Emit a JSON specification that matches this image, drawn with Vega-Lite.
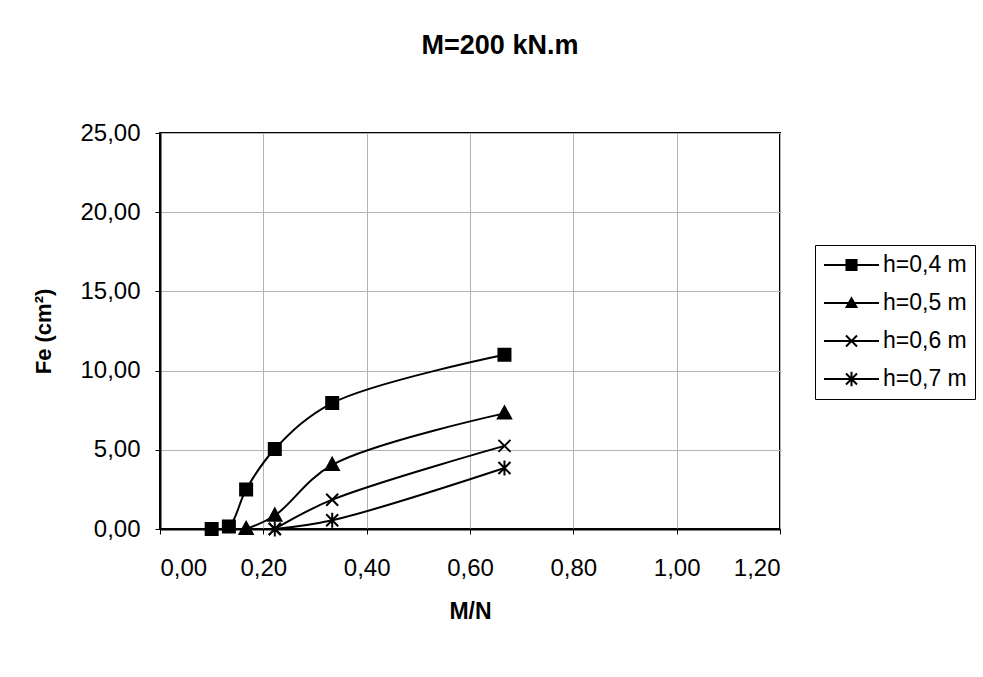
{
  "$schema": "https://vega.github.io/schema/vega-lite/v6.json",
  "autosize": "none",
  "padding": {"left": 160, "top": 133, "right": 203, "bottom": 148},
  "width": 620,
  "height": 396,
  "background": "white",
  "title": {
    "text": "M=200 kN.m",
    "font": "Liberation Sans",
    "fontSize": 27,
    "fontWeight": "bold",
    "color": "black",
    "anchor": "middle",
    "dx": 30,
    "offset": 61
  },
  "data": {
    "values": [
      {"h": "h=0,4 m", "mn": 0.1, "fe": 0},
      {"h": "h=0,4 m", "mn": 0.1333, "fe": 0.15},
      {"h": "h=0,4 m", "mn": 0.1667, "fe": 2.5},
      {"h": "h=0,4 m", "mn": 0.2222, "fe": 5.05},
      {"h": "h=0,4 m", "mn": 0.3333, "fe": 7.95},
      {"h": "h=0,4 m", "mn": 0.6667, "fe": 11.0},
      {"h": "h=0,5 m", "mn": 0.1667, "fe": 0},
      {"h": "h=0,5 m", "mn": 0.2222, "fe": 0.85},
      {"h": "h=0,5 m", "mn": 0.3333, "fe": 4.05},
      {"h": "h=0,5 m", "mn": 0.6667, "fe": 7.3},
      {"h": "h=0,6 m", "mn": 0.2222, "fe": 0},
      {"h": "h=0,6 m", "mn": 0.3333, "fe": 1.85},
      {"h": "h=0,6 m", "mn": 0.6667, "fe": 5.25},
      {"h": "h=0,7 m", "mn": 0.2222, "fe": 0},
      {"h": "h=0,7 m", "mn": 0.3333, "fe": 0.55},
      {"h": "h=0,7 m", "mn": 0.6667, "fe": 3.85}
    ]
  },
  "encoding": {
    "x": {
      "field": "mn",
      "type": "quantitative",
      "scale": {"domain": [0, 1.2], "nice": false, "zero": false},
      "axis": {
        "title": "M/N",
        "values": [0, 0.2, 0.4, 0.6, 0.8, 1.0, 1.2],
        "labelExpr": "replace(format(datum.value, '.2f'), '.', ',')",
        "grid": true,
        "gridColor": "#b4b4b4",
        "gridWidth": 1,
        "domainColor": "black",
        "domainWidth": 2,
        "tickColor": "black",
        "tickSize": 5,
        "labelFont": "Liberation Sans",
        "labelFontSize": 24,
        "labelColor": "black",
        "labelPadding": 22,
        "titleFont": "Liberation Sans",
        "titleFontSize": 23,
        "titleFontWeight": "bold",
        "titleColor": "black",
        "titlePadding": 20
      }
    },
    "y": {
      "field": "fe",
      "type": "quantitative",
      "scale": {"domain": [0, 25], "nice": false},
      "axis": {
        "title": "Fe (cm²)",
        "values": [0, 5, 10, 15, 20, 25],
        "labelExpr": "replace(format(datum.value, '.2f'), '.', ',')",
        "grid": true,
        "gridColor": "#b4b4b4",
        "gridWidth": 1,
        "domainColor": "black",
        "domainWidth": 2,
        "tickColor": "black",
        "tickSize": 5,
        "labelFont": "Liberation Sans",
        "labelFontSize": 24,
        "labelColor": "black",
        "labelPadding": 15,
        "titleFont": "Liberation Sans",
        "titleFontSize": 22,
        "titleFontWeight": "bold",
        "titleColor": "black",
        "titlePadding": 24
      }
    }
  },
  "layer": [
    {
      "mark": {"type": "line", "interpolate": "catmull-rom", "color": "black", "strokeWidth": 2},
      "encoding": {"detail": {"field": "h"}}
    },
    {
      "mark": {"type": "point", "filled": true, "color": "black", "stroke": "black", "strokeWidth": 2, "opacity": 1, "size": 144},
      "encoding": {
        "shape": {
          "field": "h",
          "type": "nominal",
          "scale": {
            "domain": ["h=0,4 m", "h=0,5 m", "h=0,6 m", "h=0,7 m"],
            "range": [
              "M-1,-1H1V1H-1Z",
              "M0,-1.15L1.1,0.85H-1.1Z",
              "M-1,-1L1,1M-1,1L1,-1",
              "M-1,-1L1,1M-1,1L1,-1M0,-1.25V1.25"
            ]
          },
          "legend": null
        }
      }
    },
    {
      "transform": [{"filter": "false"}],
      "mark": {"type": "point", "filled": true, "color": "black", "opacity": 1},
      "encoding": {
        "shape": {
          "field": "h",
          "type": "nominal",
          "scale": {
            "domain": ["h=0,4 m", "h=0,5 m", "h=0,6 m", "h=0,7 m"],
            "range": [
              "M-1,-0.09L4,-0.09L4,0.09L-1,0.09ZM0.95,-0.55L2.05,-0.55L2.05,0.55L0.95,0.55Z",
              "M-1,-0.09L4,-0.09L4,0.09L-1,0.09ZM1.5,-0.62L2.1,0.45L0.9,0.45Z",
              "M-1,-0.09L4,-0.09L4,0.09L-1,0.09ZM0.936,-0.436L1.064,-0.564L2.064,0.436L1.936,0.564ZM0.936,0.436L1.936,-0.564L2.064,-0.436L1.064,0.564Z",
              "M-1,-0.09L4,-0.09L4,0.09L-1,0.09ZM0.936,-0.436L1.064,-0.564L2.064,0.436L1.936,0.564ZM0.936,0.436L1.936,-0.564L2.064,-0.436L1.064,0.564ZM1.41,-0.65L1.59,-0.65L1.59,0.65L1.41,0.65Z"
            ]
          },
          "legend": {
            "title": null,
            "orient": "none",
            "legendX": 655,
            "legendY": 112,
            "strokeColor": "black",
            "fillColor": "white",
            "padding": 8,
            "symbolSize": 484,
            "symbolFillColor": "black",
            "symbolOpacity": 1,
            "labelFont": "Liberation Sans",
            "labelFontSize": 23,
            "labelColor": "black",
            "labelOffset": 36,
            "rowPadding": 14
          }
        }
      }
    }
  ],
  "resolve": {"scale": {"shape": "independent"}},
  "config": {
    "view": {"stroke": "black", "strokeWidth": 2}
  }
}
